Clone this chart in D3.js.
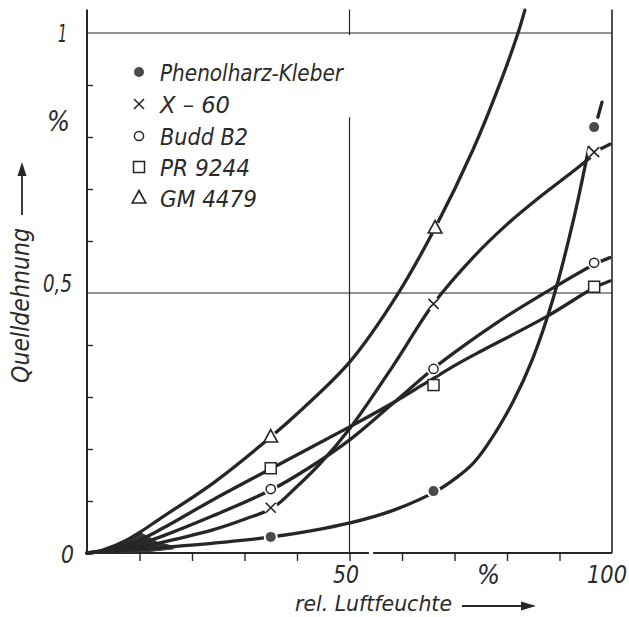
<!DOCTYPE html>
<html><head><meta charset="utf-8">
<script src="https://cdn.jsdelivr.net/npm/d3@7"></script>
<style>
html,body{margin:0;padding:0;background:#fff;}
svg{display:block;}
text{font-family:"Liberation Sans Narrow","DejaVu Sans Condensed","Arial Narrow",sans-serif;font-style:italic;fill:#2a2a2a;}
</style></head>
<body>
<svg id="chart" width="629" height="617"></svg>
<script>
// ---- data ----
const seriesNames = ["Phenolharz-Kleber", "X \u2013 60", "Budd B2", "PR 9244", "GM 4479"];
const markerX = [35, 66, 96.6];
const phenolMarks = [0.031, 0.119, 0.819];
const x60Marks    = [0.087, 0.479, 0.771];
const buddMarks   = [0.123, 0.354, 0.558];
const prMarks     = [0.163, 0.323, 0.512];
const gmMarks     = [0.223, 0.625];
const gmMarkX     = [35, 66.3];

// traced curves
const phenolCurveX = [0, 5, 9.8, 24.1, 35.2, 50.1, 58.3, 66.5, 70.5, 73.5, 76.2, 81.1, 84.9, 88.8, 92.6, 95.6];
const phenolCurveY = [0, 0.003, 0.007, 0.019, 0.031, 0.058, 0.082, 0.119, 0.146, 0.172, 0.207, 0.29, 0.374, 0.49, 0.638, 0.78];
const phenolDashX = [97.3, 98.1];
const phenolDashY = [0.838, 0.867];

const x60CurveX = [0, 5, 9.8, 14.5, 24.1, 30, 35.4, 40, 44.4, 50.1, 58.3, 65.9, 73.6, 79.9, 86.3, 92.6, 96.4];
const x60CurveY = [0, 0.004, 0.011, 0.021, 0.045, 0.065, 0.087, 0.128, 0.172, 0.24, 0.36, 0.478, 0.569, 0.631, 0.685, 0.734, 0.765];
const x60DashX = [97.8, 99.6];
const x60DashY = [0.777, 0.786];

const buddCurveX = [0, 5, 9.8, 14.5, 24.1, 35.4, 42, 50.1, 58.3, 65.9, 71, 79.9, 88.8, 96.6, 99.6];
const buddCurveY = [0, 0.006, 0.017, 0.033, 0.072, 0.123, 0.162, 0.218, 0.288, 0.354, 0.393, 0.455, 0.51, 0.555, 0.568];

const prCurveX = [0, 5, 9.8, 14.5, 24.1, 35.2, 50.1, 58.3, 64.7, 71, 75.4, 87.6, 96.6, 99.6];
const prCurveY = [0, 0.008, 0.024, 0.048, 0.103, 0.163, 0.243, 0.289, 0.328, 0.366, 0.39, 0.455, 0.51, 0.523];

const gmCurveX = [0, 2.5, 5, 7.6, 9.8, 14.5, 24.1, 35, 40.6, 50.1, 59, 66.3, 73.5, 78.7, 82.1, 83.4];
const gmCurveY = [0, 0.004, 0.013, 0.025, 0.038, 0.07, 0.135, 0.223, 0.273, 0.368, 0.495, 0.625, 0.775, 0.904, 1.0, 1.044];

// dark ink wedge at the origin
const wedgeX = [0, 3, 5, 7.6, 10, 11.5, 13.5, 16.5, 16.5, 12, 5, 0];
const wedgeY = [0, 0.006, 0.014, 0.026, 0.04, 0.032, 0.02, 0.013, 0.008, 0.003, 0, 0];

const xTicks = [10, 20, 30, 40, 50, 60, 70, 80, 90];
const yTicks = [0.1, 0.2, 0.3, 0.4, 0.6, 0.7, 0.8, 0.9];

// ---- drawing ----
const svg = d3.select("#chart");
const ink = "#262626";
const x = d3.scaleLinear().domain([0, 100]).range([87, 612]);
const y = d3.scaleLinear().domain([0, 1]).range([553, 33]);
const zip = (a, b) => a.map((v, i) => [v, b[i]]);
const line = d3.line().x(d => x(d[0])).y(d => y(d[1]));
const smooth = d3.line().x(d => x(d[0])).y(d => y(d[1])).curve(d3.curveCatmullRom.alpha(0.5));

// frame and grid
const seg = (p, w) => svg.append("path").attr("d", line(p)).attr("fill", "none").attr("stroke", ink).attr("stroke-width", w);
seg([[0, 0], [0, 1.045]], 2);
seg([[100, 0], [100, 1.045]], 1.6);
seg([[0, 1], [100, 1]], 1.2);
seg([[0, 0.5], [100, 0.5]], 1.2);
seg([[50, 0], [50, 0.838]], 1.2);
seg([[50, 0.996], [50, 1.045]], 1.2);
seg([[0, 0], [53.7, 0]], 2);
seg([[54.5, 0], [100, 0]], 2);

// ticks
const gx = svg.append("g").attr("transform", `translate(0,${y(0)})`)
  .call(d3.axisBottom(x).tickValues(xTicks).tickSize(8).tickFormat(""));
gx.select(".domain").remove();
gx.selectAll("line").attr("stroke", ink).attr("stroke-width", 1.4);
const gy = svg.append("g").attr("transform", `translate(${x(0)},0)`)
  .call(d3.axisLeft(y).tickValues(yTicks).tickSize(-6).tickFormat(""));
gy.select(".domain").remove();
gy.selectAll("line").attr("stroke", ink).attr("stroke-width", 1.4);

// wedge
svg.append("path").attr("d", line(zip(wedgeX, wedgeY))).attr("fill", "#363636").attr("stroke", "#363636").attr("stroke-width", 1);

// curves
const curves = [
  zip(phenolCurveX, phenolCurveY), zip(x60CurveX, x60CurveY),
  zip(buddCurveX, buddCurveY), zip(prCurveX, prCurveY), zip(gmCurveX, gmCurveY)
];
curves.forEach(c => svg.append("path").attr("d", smooth(c)).attr("fill", "none")
  .attr("stroke", ink).attr("stroke-width", 3.3).attr("stroke-linecap", "round"));
[zip(phenolDashX, phenolDashY), zip(x60DashX, x60DashY)].forEach(c =>
  svg.append("path").attr("d", line(c)).attr("fill", "none").attr("stroke", ink).attr("stroke-width", 3.3).attr("stroke-linecap", "round"));

// markers
const markerSets = [
  {type: "dot", pts: zip(markerX, phenolMarks)},
  {type: "cross", pts: zip(markerX, x60Marks)},
  {type: "circle", pts: zip(markerX, buddMarks)},
  {type: "square", pts: zip(markerX, prMarks)},
  {type: "triangle", pts: zip(gmMarkX, gmMarks)}
];
function drawMarker(g, type, cx, cy, knock) {
  if (knock) g.append("circle").attr("cx", cx).attr("cy", cy).attr("r", type === "square" || type === "triangle" ? 6 : 7).attr("fill", "#fff");
  if (type === "dot") g.append("circle").attr("cx", cx).attr("cy", cy).attr("r", 5).attr("fill", "#4a4a4a");
  if (type === "circle") g.append("circle").attr("cx", cx).attr("cy", cy).attr("r", 4.6).attr("fill", "#fff").attr("stroke", ink).attr("stroke-width", 1.5);
  if (type === "square") g.append("rect").attr("x", cx - 5.5).attr("y", cy - 5.5).attr("width", 11).attr("height", 11).attr("fill", "#fff").attr("stroke", ink).attr("stroke-width", 1.5);
  if (type === "triangle") g.append("path").attr("d", `M${cx},${cy - 7.5}L${cx + 6.8},${cy + 5}L${cx - 6.8},${cy + 5}Z`).attr("fill", "#fff").attr("stroke", ink).attr("stroke-width", 1.6);
  if (type === "cross") g.append("path").attr("d", `M${cx - 5},${cy - 5}L${cx + 5},${cy + 5}M${cx + 5},${cy - 5}L${cx - 5},${cy + 5}`).attr("stroke", ink).attr("stroke-width", 1.6);
}
const mg = svg.append("g");
markerSets.forEach(s => s.pts.forEach(p => drawMarker(mg, s.type, x(p[0]), y(p[1]), true)));

// legend
const lg = svg.append("g");
const legRows = [72, 104, 136, 167, 198];
const legW = [183, 70, 88, 90, 97];
markerSets.forEach((s, i) => {
  drawMarker(lg, s.type, 139, legRows[i], false);
  lg.append("text").attr("x", 160).attr("y", legRows[i] + 9).attr("font-size", 23)
    .attr("textLength", legW[i]).attr("lengthAdjust", "spacingAndGlyphs").text(seriesNames[i]);
});

// axis labels
const lab = (t, px, py, fs, w, anchor) => svg.append("text").attr("x", px).attr("y", py)
  .attr("font-size", fs).attr("text-anchor", anchor || "start")
  .attr("textLength", w).attr("lengthAdjust", "spacingAndGlyphs").text(t);
lab("1", 58, y(1) + 9, 25, 9);
lab("%", 47, 131, 28, 23);
lab("0,5", 43, y(0.5) - 1, 25, 29);
lab("0", 61, y(0) + 10, 25, 13);
lab("50", 333, 583, 24, 26);
lab("%", 477, 584, 27, 23);
lab("100", 587, 583, 24, 40);
lab("rel. Luftfeuchte", 295, 611, 22, 157);
svg.append("text").attr("transform", "translate(29,383) rotate(-90)").attr("font-size", 24)
  .attr("textLength", 155).attr("lengthAdjust", "spacingAndGlyphs").text("Quelldehnung");

// arrows
svg.append("path").attr("d", "M462,606H522").attr("stroke", ink).attr("stroke-width", 1.8);
svg.append("path").attr("d", "M521,601.5L536,606L521,610.5Z").attr("fill", ink);
svg.append("path").attr("d", "M22,215V174").attr("stroke", ink).attr("stroke-width", 1.8);
svg.append("path").attr("d", "M17.5,176L22,162L26.5,176Z").attr("fill", ink);
</script>
</body></html>
